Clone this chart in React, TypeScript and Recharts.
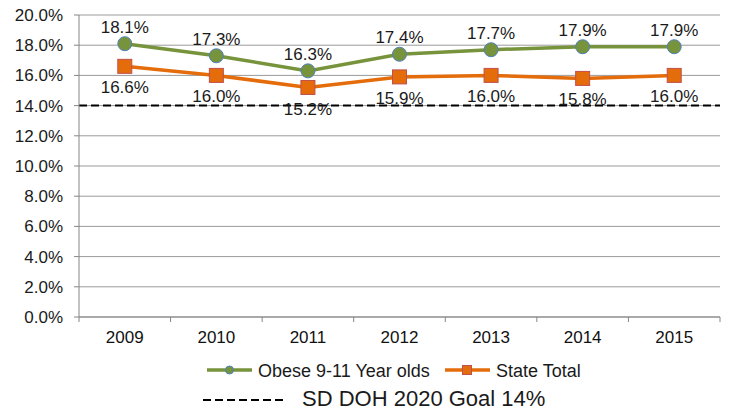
import React from "react";
import {
  LineChart, Line, XAxis, YAxis, CartesianGrid, ReferenceLine, LabelList
} from "recharts";

const years = ["2009", "2010", "2011", "2012", "2013", "2014", "2015"];
const obese = [18.1, 17.3, 16.3, 17.4, 17.7, 17.9, 17.9];
const stateTotal = [16.6, 16.0, 15.2, 15.9, 16.0, 15.8, 16.0];
const yTicks = [0, 2, 4, 6, 8, 10, 12, 14, 16, 18, 20];
const goal = 14;

const data = years.map((y, i) => ({ year: y, obese: obese[i], state: stateTotal[i] }));

const W = 733;
const H = 411;
const X_H = 30;
const M = { top: 15, right: 13, bottom: 64, left: 0 };
const Y_W = 79;
const band = (W - M.left - M.right - Y_W) / years.length;
const font = "'Liberation Sans', Arial, sans-serif";
const textColor = "#1a1a1a";
const axisColor = "#868686";

const pct = (v: any) => `${Number(v).toFixed(1)}%`;

// x ticks sit between categories, like Excel
const XTick = (props: any) => {
  const { x, y, payload, index } = props;
  const left = x - band / 2;
  return (
    <g>
      <line x1={left} y1={y - 8} x2={left} y2={y - 3} stroke={axisColor} />
      {index === years.length - 1 && (
        <line x1={x + band / 2} y1={y - 8} x2={x + band / 2} y2={y - 3} stroke={axisColor} />
      )}
      <text x={x} y={y + 18} textAnchor="middle" fontSize={17} fill="#111" fontFamily={font}>
        {payload.value}
      </text>
    </g>
  );
};

const Square = (props: any) => {
  const { cx, cy } = props;
  if (cx == null || cy == null) return null;
  return <rect x={cx - 7} y={cy - 7} width={14} height={14} fill="#E46C0A" stroke="#C0504D" strokeWidth={1} />;
};

export default function App() {
  return (
    <div style={{ position: "fixed", left: 0, top: 0, width: W, height: H, background: "#fff", fontFamily: font }}>
      <LineChart width={W} height={H} data={data} margin={M}>
        <CartesianGrid vertical={false} stroke="#9a9a9a" strokeWidth={1} />
        <XAxis
          dataKey="year"
          stroke={axisColor}
          tickLine={false}
          tick={<XTick />}
          height={X_H}
          interval={0}
          padding={{ left: band / 2, right: band / 2 }}
        />
        <YAxis
          width={Y_W}
          domain={[0, 20]}
          ticks={yTicks}
          tickFormatter={pct}
          stroke={axisColor}
          tickSize={5}
          tickMargin={11}
          tick={{ fill: textColor, fontSize: 17, fontFamily: font }}
          interval={0}
        />
        <ReferenceLine y={goal} stroke="#000" strokeWidth={2} strokeDasharray="8 4" />
        <Line
          dataKey="state"
          stroke="#E46C0A"
          strokeWidth={3.5}
          dot={<Square />}
          isAnimationActive={false}
        >
          <LabelList dataKey="state" position="bottom" offset={15} formatter={pct}
            style={{ fill: textColor, fontSize: 17, fontFamily: font }} />
        </Line>
        <Line
          dataKey="obese"
          stroke="#77933C"
          strokeWidth={3.5}
          dot={{ r: 7, fill: "#77933C", stroke: "#4F81BD", strokeWidth: 1 }}
          isAnimationActive={false}
        >
          <LabelList dataKey="obese" position="top" offset={11} formatter={pct}
            style={{ fill: textColor, fontSize: 17, fontFamily: font }} />
        </Line>
      </LineChart>
      <svg width={W} height={H} style={{ position: "absolute", left: 0, top: 0, pointerEvents: "none" }}>
        <line x1={207} y1={370} x2={252} y2={370} stroke="#77933C" strokeWidth={3.5} />
        <circle cx={229.5} cy={370} r={4} fill="#77933C" stroke="#4F81BD" />
        <text x={258} y={376.5} fontSize={18} fill={textColor} fontFamily={font}>Obese 9-11 Year olds</text>
        <line x1={445} y1={370} x2={490} y2={370} stroke="#E46C0A" strokeWidth={3.5} />
        <rect x={462.5} y={365.5} width={9} height={9} fill="#E46C0A" stroke="#C0504D" />
        <text x={496} y={376.5} fontSize={18} fill={textColor} fontFamily={font}>State Total</text>
        <line x1={203} y1={400} x2={285} y2={400} stroke="#000" strokeWidth={2} strokeDasharray="8 4" />
        <text x={302} y={406} fontSize={22} fill={textColor} fontFamily={font}>SD DOH 2020 Goal 14%</text>
      </svg>
    </div>
  );
}
